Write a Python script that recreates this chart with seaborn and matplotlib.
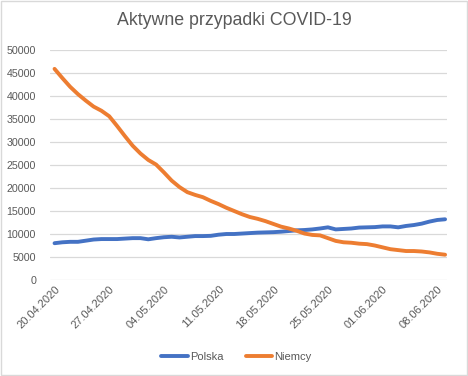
import pandas as pd
import seaborn as sns
import matplotlib.pyplot as plt
import matplotlib.dates as mdates
from matplotlib.patches import Rectangle

# Daily active cases, 20.04.2020 - 09.06.2020
dates = pd.date_range('2020-04-20', '2020-06-09', freq='D')
polska = [8000, 8200, 8300, 8300, 8550, 8800, 8900, 8900, 8900, 9000,
          9100, 9100, 8850, 9100, 9300, 9400, 9250, 9400, 9550, 9550,
          9600, 9850, 10000, 10000, 10100, 10200, 10300, 10350, 10400, 10500,
          10650, 10800, 10870, 11000, 11200, 11450, 11000, 11100, 11200, 11400,
          11450, 11500, 11650, 11650, 11450, 11750, 11950, 12250, 12700, 13050,
          13200]
niemcy = [45900, 43900, 42000, 40400, 39000, 37700, 36800, 35600, 33500, 31300,
          29200, 27500, 26100, 25100, 23400, 21600, 20200, 19100, 18500, 18000,
          17200, 16500, 15700, 15000, 14300, 13700, 13300, 12800, 12200, 11600,
          11200, 10700, 10100, 9800, 9700, 9100, 8500, 8200, 8100, 7900,
          7800, 7500, 7100, 6700, 6500, 6300, 6300, 6200, 6000, 5700,
          5500]
series_names = ['Polska', 'Niemcy']
colors = ['#4472C4', '#ED7D31']

df = pd.DataFrame({'data': list(dates) * 2,
                   'wartosc': polska + niemcy,
                   'kraj': ['Polska'] * len(dates) + ['Niemcy'] * len(dates)})

sns.set_style('white')
plt.rcParams['font.family'] = ['Liberation Sans', 'DejaVu Sans']

fig = plt.figure(figsize=(4.68, 3.76), dpi=100)
ax = fig.add_axes([0.1068, 0.2553, 0.8477, 0.6117])

sns.lineplot(data=df, x='data', y='wartosc', hue='kraj', hue_order=series_names,
             palette=colors, linewidth=2.8, ax=ax, legend=False)

ax.set_ylim(0, 50000)
ax.set_yticks(range(0, 50001, 5000))
ax.set_xlim(dates[0] - pd.Timedelta(hours=14), dates[-1] + pd.Timedelta(hours=5))
ax.set_xticks(dates[::7])
ax.xaxis.set_major_formatter(mdates.DateFormatter('%d.%m.%Y'))
ax.grid(axis='y', color='#d9d9d9', linewidth=0.9)
ax.grid(axis='x', visible=False)
for s in ax.spines.values():
    s.set_visible(False)
ax.tick_params(axis='both', length=0, colors='#595959')
ax.tick_params(axis='y', pad=10, labelsize=7.7)
ax.tick_params(axis='x', pad=3, labelsize=8)
plt.setp(ax.get_xticklabels(), rotation=45, ha='right', rotation_mode='anchor')
ax.set_xlabel('')
ax.set_ylabel('')

fig.text(0.5, 0.945, 'Aktywne przypadki COVID-19', ha='center', va='center',
         fontsize=12.8, color='#595959')

handles = [plt.Line2D([], [], color=c, linewidth=2.8) for c in colors]
fig.legend(handles, series_names, loc='center', bbox_to_anchor=(0.505, 0.05),
           ncol=2, frameon=False, fontsize=8, labelcolor='#595959',
           handlelength=2.4, handletextpad=0.2, columnspacing=2.0)

fig.patches.append(Rectangle((0.002, 0.003), 0.995, 0.994, transform=fig.transFigure,
                             fill=False, edgecolor='#d9d9d9', linewidth=1))

fig.savefig('out.png', dpi=100)
